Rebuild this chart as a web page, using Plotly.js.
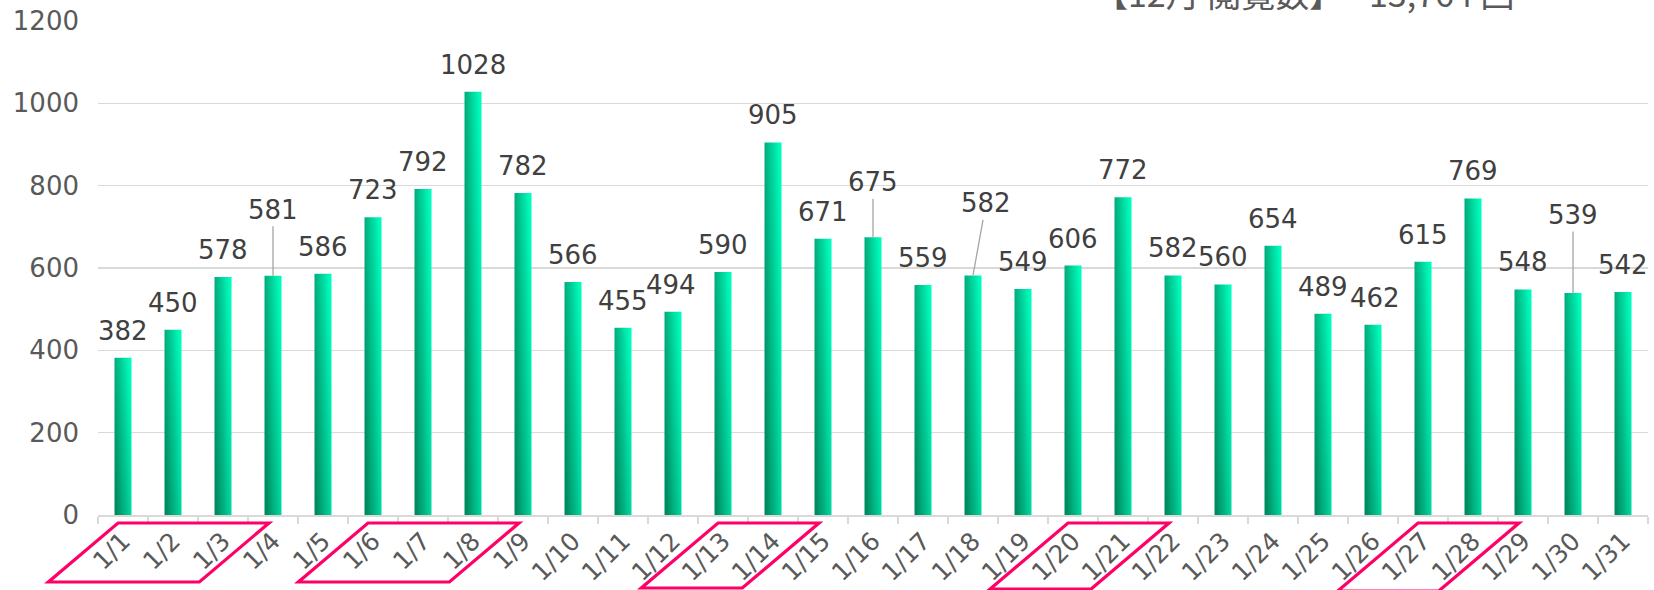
<!DOCTYPE html>
<html>
<head>
<meta charset="utf-8">
<script src="https://cdn.plot.ly/plotly-3.0.1.min.js"></script>
<style>
  html, body { margin: 0; padding: 0; background: #ffffff; }
  #chart { width: 1654px; height: 590px; }
</style>
</head>
<body>
<div id="chart"></div>
<script>
// ---- data ----
const dates = ['1/1','1/2','1/3','1/4','1/5','1/6','1/7','1/8','1/9','1/10','1/11','1/12','1/13','1/14','1/15','1/16','1/17','1/18','1/19','1/20','1/21','1/22','1/23','1/24','1/25','1/26','1/27','1/28','1/29','1/30','1/31'];
const views = [382,450,578,581,586,723,792,1028,782,566,455,494,590,905,671,675,559,582,549,606,772,582,560,654,489,462,615,769,548,539,542];
const yTicks = [0,200,400,600,800,1000,1200];
const titleLabel = '【12月 閲覧数】';
const titleValue = '13,764 回';
const highlightedDays = [['1/1','1/3'],['1/6','1/8'],['1/13','1/14'],['1/20','1/21'],['1/27','1/28']];

// ---- styling / placement config ----
const W = 1654, H = 590;
const M = {l: 98, r: 6, t: 21, b: 75};
const plotW = W - M.l - M.r, plotH = H - M.t - M.b;
const textColor = '#595959';
const labelColor = '#404040';
const gridColor = '#d9d9d9';
const FONT = 'DejaVu Sans, sans-serif';
// label offsets in px (dx, dy) for labels moved away from the default
const labelDefaultDy = -27;
const labelMoves = {3: [0, -66], 11: [-2, -27], 15: [0, -55], 17: [13, -72], 25: [2, -27], 29: [0, -78]};
// highlight box geometry: bottom pixel row per box
const boxBottoms = [582, 582, 588, 589, 591];
const boxTop = 523;

const trace = {
  type: 'bar',
  x: dates,
  y: views,
  width: 0.34,
  marker: {color: '#00c890', line: {width: 0}},
  hoverinfo: 'none'
};

const annotations = views.map((v, i) => {
  const mv = labelMoves[i] || [0, labelDefaultDy];
  const leader = (i in labelMoves) && Math.abs(mv[1]) > 40;
  return {
    x: i, y: v, xref: 'x', yref: 'y',
    text: String(v),
    showarrow: true,
    ax: mv[0], ay: mv[1],
    arrowhead: 0, arrowwidth: 1.3,
    arrowcolor: leader ? '#a6a6a6' : 'rgba(0,0,0,0)',
    standoff: 0,
    font: {family: FONT, size: 26, color: labelColor},
    xanchor: 'center', yanchor: 'middle'
  };
});

const py2paper = py => (M.t + plotH - py) / plotH;
const c2paper = c => (c + 0.5) / dates.length;
const pxPerCat = plotW / dates.length;

const shapes = highlightedDays.map((g, k) => {
  const i0 = dates.indexOf(g[0]), i1 = dates.indexOf(g[1]);
  const tl = i0 - 0.1, tr = i1 + 0.92;
  const bottom = boxBottoms[k];
  const shift = 1.18 * (bottom - boxTop) / pxPerCat;
  const yt = py2paper(boxTop), yb = py2paper(bottom);
  const path = `M ${c2paper(tl)},${yt} L ${c2paper(tr)},${yt} L ${c2paper(tr - shift)},${yb} L ${c2paper(tl - shift)},${yb} Z`;
  return {
    type: 'path', xref: 'paper', yref: 'paper', path: path,
    line: {color: '#ff0066', width: 3.2}, fillcolor: 'rgba(0,0,0,0)', layer: 'above'
  };
});

const titleY = 1 + 29 / plotH;
annotations.push({
  xref: 'paper', yref: 'paper', x: (1092 - M.l) / plotW, y: titleY,
  text: titleLabel, showarrow: false, xanchor: 'left', yanchor: 'middle',
  font: {family: 'Noto Sans CJK JP, sans-serif', size: 34, color: textColor}
});
annotations.push({
  xref: 'paper', yref: 'paper', x: (1367 - M.l) / plotW, y: titleY,
  text: titleValue, showarrow: false, xanchor: 'left', yanchor: 'middle',
  font: {family: 'Noto Sans CJK JP, sans-serif', size: 34, color: textColor}
});

const layout = {
  width: W, height: H,
  margin: M,
  paper_bgcolor: '#ffffff', plot_bgcolor: '#ffffff',
  showlegend: false,
  bargap: 0.66,
  xaxis: {
    type: 'category',
    tickangle: -45,
    tickfont: {family: FONT, size: 25, color: textColor},
    showline: true, linecolor: gridColor, linewidth: 1.5,
    ticks: 'outside', tickson: 'boundaries', ticklen: 7, tickcolor: gridColor, tickwidth: 1.5,
    showgrid: false, zeroline: false,
    range: [-0.5, dates.length - 0.5]
  },
  yaxis: {
    range: [0, 1200],
    tickvals: yTicks,
    tickfont: {family: FONT, size: 26, color: textColor},
    showgrid: true, gridcolor: gridColor, gridwidth: 1.3,
    zeroline: false, showline: false, ticks: '',
    ticklabelstandoff: 18
  },
  annotations: annotations,
  shapes: shapes
};

Plotly.newPlot('chart', [trace], layout, {staticPlot: true}).then(gd => {
  const ns = 'http://www.w3.org/2000/svg';
  const svg = gd.querySelector('.main-svg');
  let defs = svg.querySelector('defs');
  if (!defs) { defs = document.createElementNS(ns, 'defs'); svg.insertBefore(defs, svg.firstChild); }
  const grad = document.createElementNS(ns, 'linearGradient');
  grad.setAttribute('id', 'barGrad');
  grad.setAttribute('x1', '0'); grad.setAttribute('y1', '0.75');
  grad.setAttribute('x2', '1'); grad.setAttribute('y2', '0.25');
  [['0%', '#008a60'], ['100%', '#00fcbc']].forEach(([o, c]) => {
    const s = document.createElementNS(ns, 'stop');
    s.setAttribute('offset', o); s.setAttribute('stop-color', c);
    grad.appendChild(s);
  });
  defs.appendChild(grad);
  gd.querySelectorAll('.bars .point path').forEach(p => { p.style.fill = 'url(#barGrad)'; });
});
</script>
</body>
</html>
